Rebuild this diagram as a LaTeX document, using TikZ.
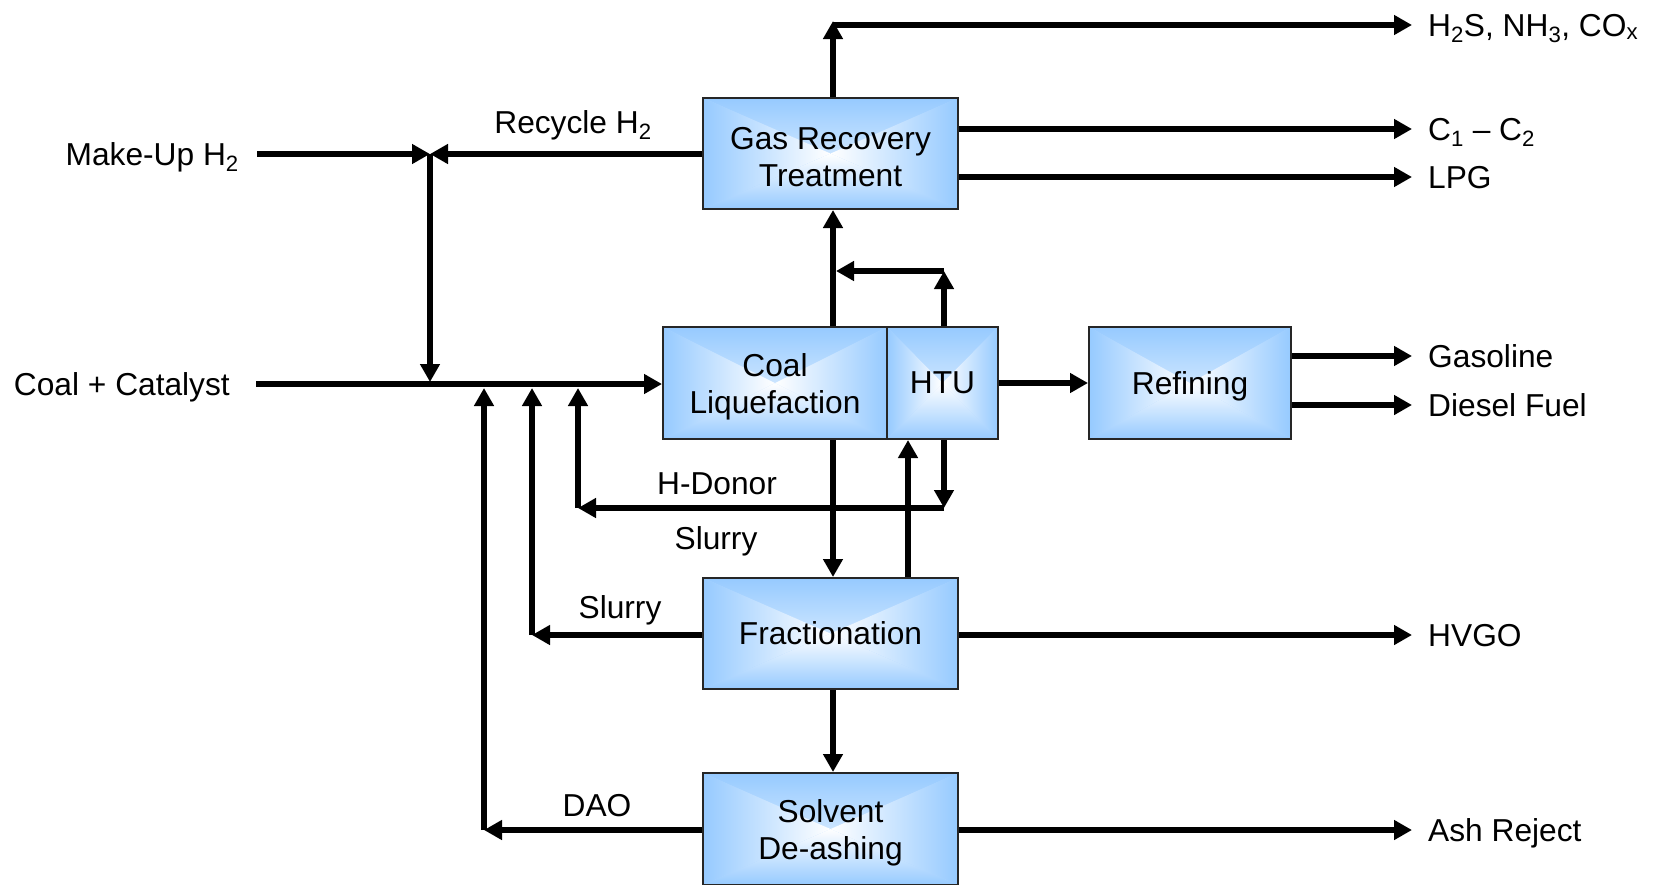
\documentclass[tikz,border=0pt]{standalone}
\usepackage{fontspec}
\setmainfont{Liberation Sans}
\usetikzlibrary{arrows.meta}
\definecolor{boxblue}{RGB}{150,202,255}
\colorlet{boxmid}{boxblue!72!white}
\tikzset{
 pgrad/.style={path picture={
  \shade[top color=boxblue,middle color=boxmid,bottom color=white] (path picture bounding box.north west) -- (path picture bounding box.north east) -- (path picture bounding box.center) -- cycle;
  \shade[bottom color=boxblue,middle color=boxmid,top color=white] (path picture bounding box.south west) -- (path picture bounding box.south east) -- (path picture bounding box.center) -- cycle;
  \shade[left color=boxblue,middle color=boxmid,right color=white] (path picture bounding box.north west) -- (path picture bounding box.south west) -- (path picture bounding box.center) -- cycle;
  \shade[right color=boxblue,middle color=boxmid,left color=white] (path picture bounding box.north east) -- (path picture bounding box.south east) -- (path picture bounding box.center) -- cycle;
 }},
 proc/.style={fill=boxmid,pgrad,draw=black!85,line width=2pt,inner sep=0pt,align=center},
 lbl/.style={inner sep=0pt,text height=23pt,text depth=1pt},
 con/.style={line width=5.5pt},
 arr/.style={con,-{Triangle[length=18pt,width=19pt]}}
}
\newcommand{\tstrut}{\rule{0pt}{30pt}}
\begin{document}
\begin{tikzpicture}[x=1pt,y=-1pt,every node/.append style={font=\fontsize{31.7}{37}\selectfont}]
\useasboundingbox (0,0) rectangle (1653,884);
% process boxes
\node[proc,minimum width=255pt,minimum height=111pt] (gas) at (830.5,153.5) {\tstrut Gas Recovery\\Treatment};
\node[proc,minimum width=224pt,minimum height=112pt] (coal) at (775,383) {\tstrut Coal\\Liquefaction};
\node[proc,minimum width=111pt,minimum height=112pt,text depth=0pt] (htu) at (942.5,383) {HTU};
\node[proc,minimum width=202pt,minimum height=112pt,text depth=0pt] (ref) at (1190,383) {Refining};
\node[proc,minimum width=255pt,minimum height=111pt,text depth=0pt] (frac) at (830.5,633.5) {Fractionation};
\node[proc,minimum width=255pt,minimum height=112pt] (sda) at (830.5,829) {\tstrut Solvent\\De-ashing};
% outputs
\node[lbl,anchor=west] (o1) at (1428,25) {H\textsubscript{2}S, NH\textsubscript{3}, CO\textsubscript{x}};
\node[lbl,anchor=west] (o2) at (1428,129) {C\textsubscript{1} \textendash\ C\textsubscript{2}};
\node[lbl,anchor=west] (o3) at (1428,177) {LPG};
\node[lbl,anchor=west] (o4) at (1428,356) {Gasoline};
\node[lbl,anchor=west] (o5) at (1428,405) {Diesel Fuel};
\node[lbl,anchor=west] (o6) at (1428,635) {HVGO};
\node[lbl,anchor=west] (o7) at (1428,830) {Ash Reject};
% inputs
\node[lbl,anchor=east] (mu) at (239,154) {Make-Up H\textsubscript{2}};
\node[lbl,anchor=east] (cc) at (230,384) {Coal + Catalyst};
% stream labels
\node[lbl] (lrec) at (573,122) {Recycle H\textsubscript{2}};
\node[lbl] (lhd) at (717,483) {H-Donor};
\node[lbl] (lsl1) at (716,538) {Slurry};
\node[lbl] (lsl2) at (620,607) {Slurry};
\node[lbl] (ldao) at (597,805) {DAO};
% coordinates
\coordinate (tA) at (833,21);
\coordinate (tB) at (833,25);
\coordinate (j1) at (430,154);
\coordinate (jm) at (430,382);
\coordinate (mainup) at (0,388);
\coordinate (d1) at (484,830);
\coordinate (s1) at (532,635);
\coordinate (h1) at (578,508);
\coordinate (h2) at (944,508);
\coordinate (u1) at (944,271);
\coordinate (u2) at (836,271);
\coordinate (f1) at (908,0);
% connectors
\draw[arr] (gas.north -| tA) -- (tA);
\draw[arr] (tB) -- ([xshift=-16pt]o1.west);
\draw[arr] (gas.east |- o2.west) -- ([xshift=-16pt]o2.west);
\draw[arr] (gas.east |- o3.west) -- ([xshift=-16pt]o3.west);
\draw[arr] (gas.west |- j1) -- (j1);
\draw[arr] ([xshift=18pt]mu.east) -- (j1);
\draw[arr] (j1) -- (jm);
\draw[arr] ([xshift=26pt]cc.east) -- (coal.west |- cc.east);
\draw[arr] (coal.north -| tA) -- (gas.south -| tA);
\draw[arr] (htu.north -| u1) -- (u1);
\draw[arr] (u1) -- (u2);
\draw[arr] (htu.east) -- (ref.west);
\draw[arr] (ref.east |- o4.west) -- ([xshift=-16pt]o4.west);
\draw[arr] (ref.east |- o5.west) -- ([xshift=-16pt]o5.west);
\draw[arr] (htu.south -| h2) -- (h2);
\draw[arr] (h2) -- (h1);
\draw[arr] (h1) -- (h1 |- mainup);
\draw[arr] (coal.south -| tA) -- (frac.north -| tA);
\draw[arr] (frac.north -| f1) -- (htu.south -| f1);
\draw[arr] (frac.west |- s1) -- (s1);
\draw[arr] (s1) -- (s1 |- mainup);
\draw[arr] (frac.east |- o6.west) -- ([xshift=-16pt]o6.west);
\draw[arr] (frac.south -| tA) -- (sda.north -| tA);
\draw[arr] (sda.west |- d1) -- (d1);
\draw[arr] (d1) -- (d1 |- mainup);
\draw[arr] (sda.east |- o7.west) -- ([xshift=-16pt]o7.west);
\end{tikzpicture}
\end{document}
